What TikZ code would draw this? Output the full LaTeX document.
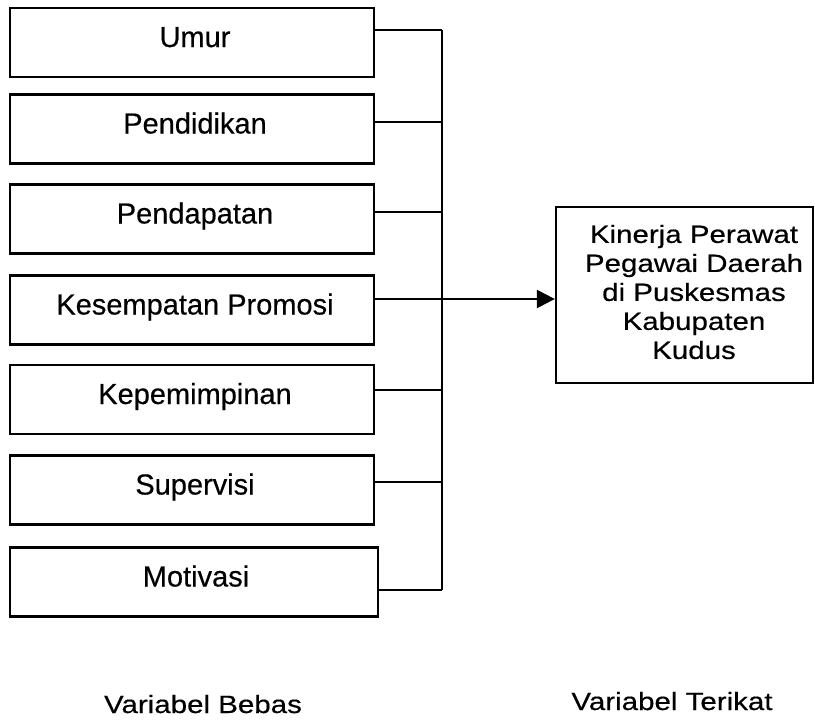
\documentclass[tikz,border=0pt]{standalone}
\usepackage{fontspec}
\setmainfont[FakeBold=0.4]{Liberation Sans}
\newfontfamily\widefont[FakeStretch=1.18,FakeBold=0.4]{Liberation Sans}
\usetikzlibrary{arrows.meta}
\tikzset{
  varbox/.style={draw, line width=2.3pt, minimum width=364pt, minimum height=69pt,
    inner sep=0pt, font=\fontsize{29}{31}\selectfont, text height=21pt, text depth=12pt},
  outbox/.style={draw, line width=2.3pt, minimum width=257pt, minimum height=176pt, inner sep=0pt},
  outtext/.style={align=center, font=\widefont\fontsize{25}{29}\selectfont, inner sep=0pt},
  caption/.style={font=\widefont\fontsize{25}{29}\selectfont, inner sep=0pt, anchor=base},
  link/.style={line width=2.3pt},
  arrowlink/.style={line width=2.3pt, -{Triangle[length=18pt,width=18pt]}}
}
\begin{document}
\begin{tikzpicture}[x=1pt,y=-1pt]
\useasboundingbox (0,0) rectangle (815,721);
% independent variables
\node[varbox] (b1) at (192,42.5) {\hspace*{6pt}Umur};
\node[varbox] (b2) at (192,129) {\hspace*{6pt}Pendidikan};
\node[varbox] (b3) at (192,219) {\hspace*{6pt}Pendapatan};
\node[varbox] (b4) at (192,310) {\hspace*{6pt}Kesempatan Promosi};
\node[varbox] (b5) at (192,399.5) {\hspace*{6pt}Kepemimpinan};
\node[varbox] (b6) at (192,490) {\hspace*{6pt}Supervisi};
\node[varbox, minimum width=368pt] (b7) at (194,582) {\hspace*{4pt}Motivasi};
% dependent variable
\node[outbox] (r) at (684.5,295) {};
\node[outtext] (rt) at (694,292) {Kinerja Perawat\\Pegawai Daerah\\di Puskesmas\\Kabupaten\\Kudus};
% bus junctions
\coordinate (j1) at (442,30);
\coordinate (j2) at (442,122);
\coordinate (j3) at (442,212);
\coordinate (j4) at (442,299);
\coordinate (j5) at (442,390);
\coordinate (j6) at (442,482);
\coordinate (j7) at (442,590);
\draw[link] (b1.east |- j1) -- (j1);
\draw[link] (b2.east |- j2) -- (j2);
\draw[link] (b3.east |- j3) -- (j3);
\draw[link] (b4.east |- j4) -- (j4);
\draw[link] (b5.east |- j5) -- (j5);
\draw[link] (b6.east |- j6) -- (j6);
\draw[link] (b7.east |- j7) -- (j7);
\draw[link] (j1) -- (j7);
\draw[arrowlink] (j4) -- (r.west |- j4);
% captions
\node[caption] (c1) at (203,713) {Variabel Bebas};
\node[caption] (c2) at (672,710) {Variabel Terikat};
\end{tikzpicture}
\end{document}
